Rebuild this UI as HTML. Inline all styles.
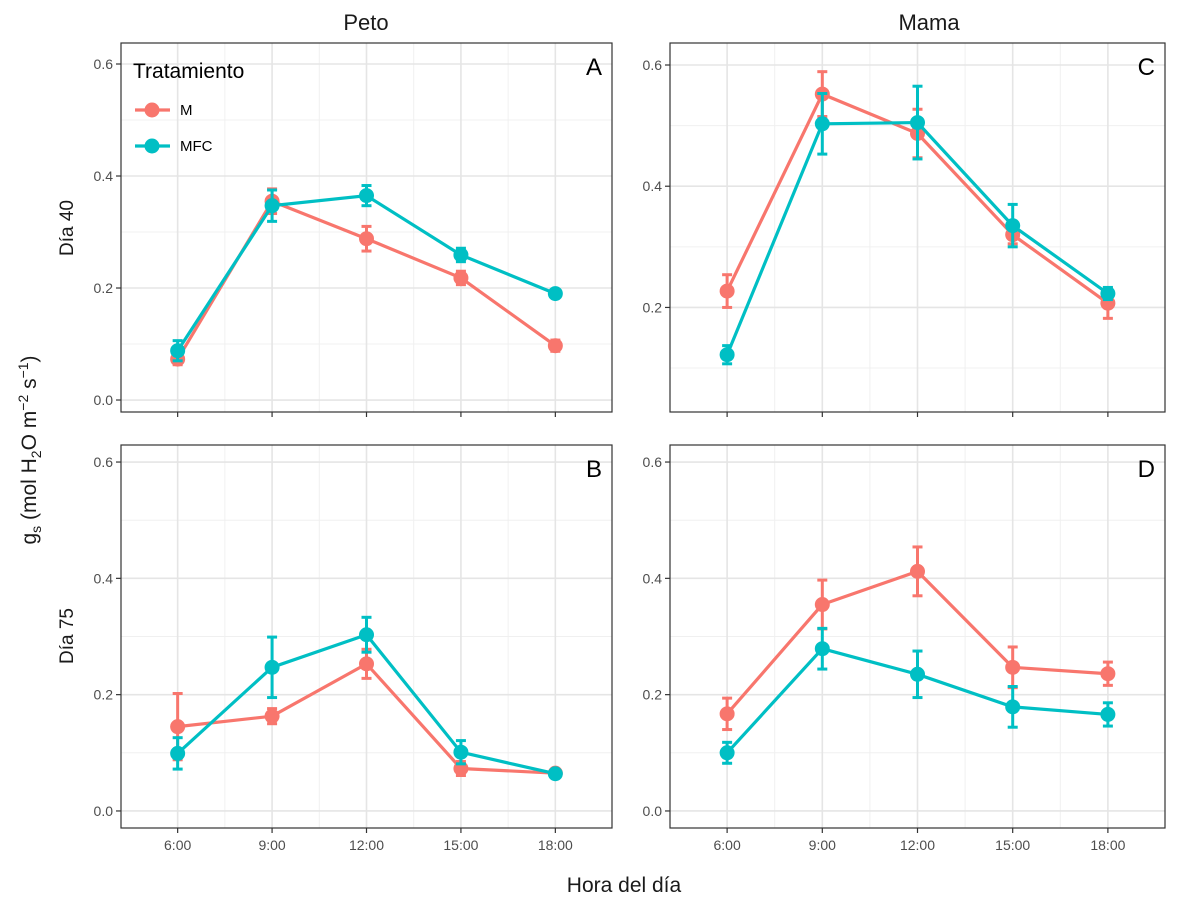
<!DOCTYPE html>
<html><head><meta charset="utf-8"><style>body{margin:0;background:#fff}svg{display:block;font-family:"Liberation Sans",Arial,sans-serif}</style></head>
<body>
<svg id="chart" width="1200" height="900" viewBox="0 0 1200 900" xmlns="http://www.w3.org/2000/svg">
<rect width="1200" height="900" fill="#fff"/>
<text x="366" y="30" font-size="22" text-anchor="middle" fill="#1a1a1a">Peto</text>
<text x="929" y="30" font-size="22" text-anchor="middle" fill="#1a1a1a">Mama</text>
<text transform="translate(73,228) rotate(-90)" font-size="19" text-anchor="middle" fill="#1a1a1a">Día 40</text>
<text transform="translate(73,636) rotate(-90)" font-size="19" text-anchor="middle" fill="#1a1a1a">Día 75</text>
<text transform="translate(36,450) rotate(-90)" font-size="21" text-anchor="middle" fill="#1a1a1a">g<tspan font-size="14" dy="5">s</tspan><tspan dy="-5"> (mol H</tspan><tspan font-size="14" dy="5">2</tspan><tspan dy="-5">O m</tspan><tspan font-size="14" dy="-8">−2</tspan><tspan dy="8"> s</tspan><tspan font-size="14" dy="-8">−1</tspan><tspan dy="8">)</tspan></text>
<text x="624" y="892" font-size="21" text-anchor="middle" fill="#1a1a1a">Hora del día</text>
<g id="panels"></g>
</svg>
<script>
const categories = ["6:00","9:00","12:00","15:00","18:00"];
const A_M = [0.073,0.355,0.288,0.218,0.097];
const A_M_err = [0.010,0.022,0.022,0.012,0.010];
const A_MFC = [0.088,0.347,0.365,0.259,0.190];
const A_MFC_err = [0.018,0.028,0.018,0.012,0.005];
const C_M = [0.227,0.552,0.487,0.320,0.207];
const C_M_err = [0.027,0.037,0.040,0.015,0.025];
const C_MFC = [0.122,0.503,0.505,0.335,0.223];
const C_MFC_err = [0.015,0.050,0.060,0.035,0.010];
const B_M = [0.145,0.163,0.253,0.073,0.065];
const B_M_err = [0.057,0.013,0.025,0.012,0.005];
const B_MFC = [0.099,0.247,0.303,0.101,0.064];
const B_MFC_err = [0.027,0.052,0.030,0.020,0.005];
const D_M = [0.167,0.355,0.412,0.247,0.236];
const D_M_err = [0.027,0.042,0.042,0.035,0.020];
const D_MFC = [0.100,0.279,0.235,0.179,0.166];
const D_MFC_err = [0.018,0.035,0.040,0.035,0.020];
const ticksA = [0,0.2,0.4,0.6];
const ticksC = [0.2,0.4,0.6];
const tickLabels = {0:"0.0",0.2:"0.2",0.4:"0.4",0.6:"0.6"};

const NS="http://www.w3.org/2000/svg";
const root=document.getElementById('panels');
function mk(tag,attrs,parent){const e=document.createElementNS(NS,tag);for(const k in attrs)e.setAttribute(k,attrs[k]);(parent||root).appendChild(e);return e;}
const panels=[
 {id:"A",x0:121,x1:612,y0:43,y1:412,ymin:-0.0214,ymax:0.6375,ticks:ticksA,M:A_M,Me:A_M_err,F:A_MFC,Fe:A_MFC_err,xlab:false,legend:true},
 {id:"C",x0:670,x1:1165,y0:43,y1:412,ymin:0.0275,ymax:0.6363,ticks:ticksC,M:C_M,Me:C_M_err,F:C_MFC,Fe:C_MFC_err,xlab:false},
 {id:"B",x0:121,x1:612,y0:445,y1:828,ymin:-0.0293,ymax:0.6293,ticks:ticksA,M:B_M,Me:B_M_err,F:B_MFC,Fe:B_MFC_err,xlab:true},
 {id:"D",x0:670,x1:1165,y0:445,y1:828,ymin:-0.0293,ymax:0.6293,ticks:ticksA,M:D_M,Me:D_M_err,F:D_MFC,Fe:D_MFC_err,xlab:true}
];
panels.forEach(p=>{
 const g=mk('g',{});
 
 
 const n=categories.length;
 const xs=i=>p.x0+(p.x1-p.x0)*(0.6+i)/(n+0.2);
 const ys=v=>p.y1-(v-p.ymin)/(p.ymax-p.ymin)*(p.y1-p.y0);
 for(let v=-0.1;v<=0.7;v+=0.2){const y=ys(v);if(y>p.y0&&y<p.y1)mk('line',{x1:p.x0,x2:p.x1,y1:y,y2:y,stroke:"#f0f0f0","stroke-width":1},g);}
 for(let i=0;i<n-1;i++){const x=(xs(i)+xs(i+1))/2;mk('line',{x1:x,x2:x,y1:p.y0,y2:p.y1,stroke:"#f0f0f0","stroke-width":1},g);}
 p.ticks.forEach(v=>{const y=ys(v);
  mk('line',{x1:p.x0,x2:p.x1,y1:y,y2:y,stroke:"#e5e5e5","stroke-width":1.6},g);
  mk('line',{x1:p.x0-5,x2:p.x0,y1:y,y2:y,stroke:"#333","stroke-width":1.2},g);
  const t=mk('text',{x:p.x0-8,y:y+5,"font-size":14,"text-anchor":"end",fill:"#4d4d4d"},g);t.textContent=tickLabels[v];
  
  
 });
 categories.forEach((c,i)=>{const x=xs(i);
  mk('line',{x1:x,x2:x,y1:p.y0,y2:p.y1,stroke:"#e5e5e5","stroke-width":1.6},g);
  mk('line',{x1:x,x2:x,y1:p.y1,y2:p.y1+5,stroke:"#333","stroke-width":1.2},g);
  if(p.xlab){const t=mk('text',{x:x,y:p.y1+22,"font-size":14,"text-anchor":"middle",fill:"#4d4d4d"},g);t.textContent=c;
   
   }
 });
 [[p.M,p.Me,"#F8766D","m"],[p.F,p.Fe,"#00BFC4","mfc"]].forEach(([vals,errs,col,nm])=>{
  const sg=mk('g',{},g);
  
  
  vals.forEach((v,i)=>{const x=xs(i),a=ys(v+errs[i]),b=ys(v-errs[i]);
   mk('line',{x1:x,x2:x,y1:a,y2:b,stroke:col,"stroke-width":3},sg);
   mk('line',{x1:x-5,x2:x+5,y1:a,y2:a,stroke:col,"stroke-width":3},sg);
   mk('line',{x1:x-5,x2:x+5,y1:b,y2:b,stroke:col,"stroke-width":3},sg);});
  mk('polyline',{points:vals.map((v,i)=>xs(i)+","+ys(v)).join(" "),fill:"none",stroke:col,"stroke-width":3.2},sg);
  vals.forEach((v,i)=>{const c=mk('circle',{cx:xs(i),cy:ys(v),r:7.5,fill:col},sg);
   
   });
 });
 mk('rect',{x:p.x0,y:p.y0,width:p.x1-p.x0,height:p.y1-p.y0,fill:"none",stroke:"#333","stroke-width":1.2},g);
 const tg=mk('text',{x:p.x1-10,y:p.y0+32,"font-size":24,"text-anchor":"end",fill:"#000"},g);tg.textContent=p.id;
 
 
 if(p.legend){
  const lg=mk('g',{},g);
  
  
  const lt=mk('text',{x:133,y:78,"font-size":21,fill:"#000"},lg);lt.textContent="Tratamiento";
  [["M","#F8766D",110],["MFC","#00BFC4",146]].forEach(([lab,col,y])=>{
   const e=mk('g',{},lg);
   
   
   mk('line',{x1:135,x2:170,y1:y,y2:y,stroke:col,"stroke-width":3.2},e);
   mk('circle',{cx:152,cy:y,r:7.5,fill:col},e);
   const t=mk('text',{x:180,y:y+5,"font-size":15,fill:"#000"},e);t.textContent=lab;
  });
 }
});
</script>
</body></html>
